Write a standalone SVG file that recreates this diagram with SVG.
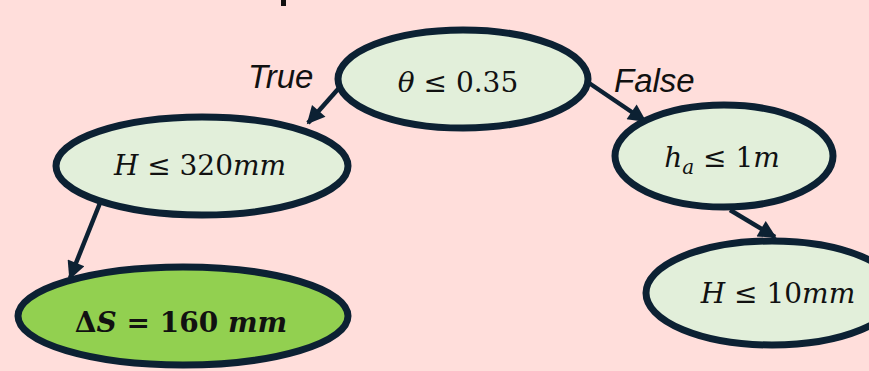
<svg xmlns="http://www.w3.org/2000/svg" width="869" height="371" viewBox="0 0 869 371">
<defs>
<style>
.node{fill:#E2EFDA;stroke:#0C2133;stroke-width:7}
.leaf{fill:#92D050;stroke:#0C2133;stroke-width:7}
.edge{stroke:#0C2133;stroke-width:4.5;fill:none}
.math{font-family:"DejaVu Serif","Liberation Serif",serif;font-size:28px;fill:#111;text-anchor:middle}
.lbl{font-family:"Liberation Sans",Arial,sans-serif;font-style:italic;font-size:33px;fill:#111}
.it{font-style:italic}
</style>
<marker id="arr" viewBox="0 0 10 10" refX="9" refY="5" markerWidth="4.4" markerHeight="4" orient="auto" markerUnits="strokeWidth">
<path d="M0,0 L10,5 L0,10 z" fill="#0C2133"/>
</marker>
</defs>
<rect width="869" height="371" fill="#FFDEDB"/>
<rect x="281" y="0" width="5" height="6" fill="#111"/>
<g id="connectors">
<line class="edge" x1="339" y1="88" x2="308" y2="123" marker-end="url(#arr)"/>
<line class="edge" x1="589" y1="83" x2="645" y2="121" marker-end="url(#arr)"/>
<line class="edge" x1="100" y1="203" x2="70" y2="278" marker-end="url(#arr)"/>
<line class="edge" x1="730" y1="210" x2="775" y2="237" marker-end="url(#arr)"/>
</g>
<g id="label-true"><text class="lbl" x="248" y="88">True</text></g>
<g id="label-false"><text class="lbl" x="614" y="92">False</text></g>
<g id="root">
<ellipse class="node" cx="463" cy="79" rx="125" ry="49"/>
<text class="math" x="458" y="92"><tspan class="it">θ</tspan> ≤ 0.35</text>
</g>
<g id="n-left">
<ellipse class="node" cx="202" cy="166" rx="146" ry="49"/>
<text class="math" x="200" y="175"><tspan class="it">H</tspan> ≤ 320<tspan class="it">mm</tspan></text>
</g>
<g id="leaf-left">
<ellipse class="leaf" cx="183" cy="316" rx="165" ry="49"/>
<text class="math" x="181" y="332" font-size="27" font-weight="bold">Δ<tspan class="it">S</tspan> = 160 <tspan class="it">mm</tspan></text>
</g>
<g id="n-right">
<ellipse class="node" cx="724" cy="156" rx="109" ry="51"/>
<text class="math" x="722" y="167"><tspan class="it">h</tspan><tspan class="it" font-size="20" dy="7">a</tspan><tspan dy="-7"> ≤ 1</tspan><tspan class="it">m</tspan></text>
</g>
<g id="n-right2">
<ellipse class="node" cx="772" cy="293" rx="126" ry="52"/>
<text class="math" x="778" y="303"><tspan class="it">H</tspan> ≤ 10<tspan class="it">mm</tspan></text>
</g>
</svg>
